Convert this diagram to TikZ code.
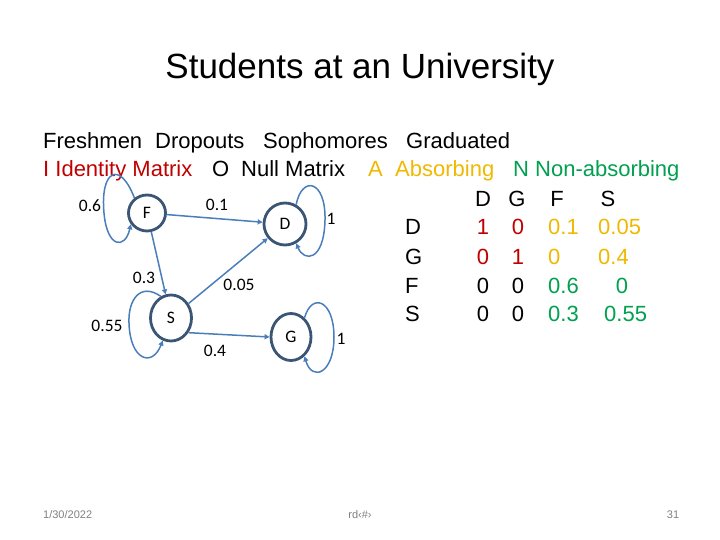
\documentclass[tikz,border=0pt]{standalone}
\usepackage{fontspec}
\setmainfont{Liberation Sans}
\newfontfamily\labelfont{Carlito}
\usetikzlibrary{calc, arrows.meta, shapes.geometric}
\definecolor{idred}{HTML}{C00000}
\definecolor{absgold}{HTML}{F0B800}
\definecolor{nongreen}{HTML}{00A050}
\definecolor{edgeblue}{HTML}{4A7EBB}
\definecolor{statenavy}{HTML}{3B5675}
\tikzset{
	state/.style={draw=statenavy, line width=2.8pt, ellipse, inner sep=0pt, font=\labelfont\fontsize{17.5}{17.5}\selectfont},
	trans/.style={draw=edgeblue, line width=1.5pt, -{Triangle[length=5pt,width=5pt]}},
	prob/.style={font=\labelfont\fontsize{17.5}{17.5}\selectfont, inner sep=0pt},
	txt/.style={font=\fontsize{22}{26}\selectfont, inner sep=0pt, anchor=base west},
	cell/.style={font=\fontsize{22}{26}\selectfont, inner sep=0pt, anchor=base},
	foot/.style={font=\fontsize{11}{11}\selectfont, text=gray, inner sep=0pt},
}
\begin{document}
\begin{tikzpicture}[x=1pt, y=-1pt]
			\useasboundingbox (0,0) rectangle (720,540);
			% title and legend
			\node[font=\fontsize{35}{40}\selectfont, inner sep=0pt, anchor=base] (title) at (360,79) {Students at an University};
			\node[txt] (fresh) at (43,149) {Freshmen};
			\node[txt] (drop) at (155,149) {Dropouts};
			\node[txt] (soph) at (263,149) {Sophomores};
			\node[txt] (grad) at (406,149) {Graduated};
			\node[txt, text=idred] (ident) at (43,177) {I Identity Matrix};
			\node[txt] (nullO) at (212,177) {O};
			\node[txt] (null) at (241,177) {Null Matrix};
			\node[txt, text=absgold] (absA) at (368,177) {A};
			\node[txt, text=absgold] (abs) at (395,177) {Absorbing};
			\node[txt, text=nongreen] (non) at (513,177) {N Non-absorbing};
			% states
			\node[state, minimum width=37pt, minimum height=36pt] (F) at (147,213) {F};
			\node[state, minimum width=42pt, minimum height=42pt] (D) at (285,224) {D};
			\node[state, minimum width=41pt, minimum height=46pt] (S) at (171,318) {S};
			\node[state, minimum width=40pt, minimum height=47pt] (G) at (291,337) {G};
			\draw[trans] (F) -- (D);
			\draw[trans] (F) -- (S);
			\draw[trans] (S) -- (D);
			\draw[trans] (S.-40) -- (G.west);
			\draw[trans] (F.130) .. controls (120,160) and (100,170) .. (104,213) .. controls (107,248) and (125,250) .. (F.215);
			\draw[trans] (D.60) .. controls (302,175) and (326,180) .. (325,220) .. controls (324,262) and (304,262) .. (D.-60);
			\draw[trans] (S.115) .. controls (140,282) and (128,300) .. (129,323) .. controls (130,360) and (152,368) .. (S.-110);
			\draw[trans] (G.55) .. controls (312,292) and (334,300) .. (334,337) .. controls (334,374) and (312,382) .. (G.-55);
			\node[prob] (pFF) at (90,206) {0.6};
			\node[prob] (pFD) at (217,205) {0.1};
			\node[prob] (pDD) at (331,219) {1};
			\node[prob] (pFS) at (144,278) {0.3};
			\node[prob] (pSD) at (239,285) {0.05};
			\node[prob] (pSS) at (107,326) {0.55};
			\node[prob] (pSG) at (215,351) {0.4};
			\node[prob] (pGG) at (341,339) {1};
			% matrix
			\node[cell] (hD) at (483,207) {D};
			\node[cell] (hG) at (517,207) {G};
			\node[cell] (hF) at (557,207) {F};
			\node[cell] (hS) at (608,207) {S};
			\node[txt] (rD) at (405,235) {D};
			\node[txt] (rG) at (405,264) {G};
			\node[txt] (rF) at (405,293) {F};
			\node[txt] (rS) at (405,321.5) {S};
			\node[cell, text=idred] (mDD) at (483,235) {1};
			\node[cell, text=idred] (mDG) at (518,235) {0};
			\node[txt, text=absgold] (mDF) at (548,235) {0.1};
			\node[txt, text=absgold] (mDS) at (598,235) {0.05};
			\node[cell, text=idred] (mGD) at (483,264) {0};
			\node[cell, text=idred] (mGG) at (518,264) {1};
			\node[txt, text=absgold] (mGF) at (548,264) {0};
			\node[txt, text=absgold] (mGS) at (598,264) {0.4};
			\node[cell] (mFD) at (483,293) {0};
			\node[cell] (mFG) at (518,293) {0};
			\node[txt, text=nongreen] (mFF) at (548,293) {0.6};
			\node[cell, text=nongreen] (mFS) at (622,293) {0};
			\node[cell] (mSD) at (483,321.5) {0};
			\node[cell] (mSG) at (518,321.5) {0};
			\node[txt, text=nongreen] (mSF) at (548,321.5) {0.3};
			\node[txt, text=nongreen] (mSS) at (604,321.5) {0.55};
			% footer
			\node[foot, anchor=west] (date) at (43,515) {1/30/2022};
			\node[foot] (sld) at (360,515) {rd‹\#›};
			\node[foot] (num) at (673,515) {31};
		\end{tikzpicture}
\end{document}
